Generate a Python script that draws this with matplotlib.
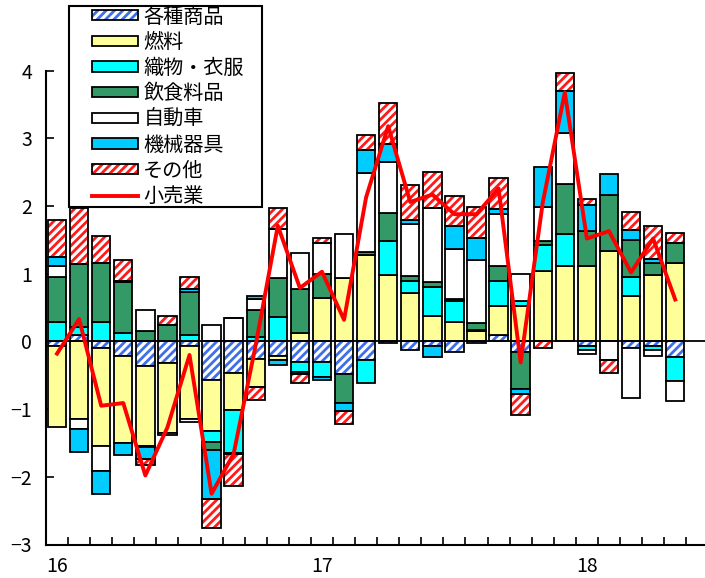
import numpy as np
import matplotlib
matplotlib.use('Agg')
from matplotlib import pyplot as plt
from matplotlib.patches import Patch, Rectangle
from matplotlib.lines import Line2D

plt.rcParams['font.family'] = ['Noto Sans CJK JP', 'DejaVu Sans']
plt.rcParams['hatch.linewidth'] = 2.0

months = ['16', '', '', '', '', '', '', '', '', '', '', '',
          '17', '', '', '', '', '', '', '', '', '', '', '',
          '18', '', '', '', '']

misc = [-0.06, 0.10, -0.10, -0.21, -0.36, -0.32, -0.06, -0.57, -0.47, -0.26,
        -0.22, -0.31, -0.30, -0.48, -0.28, -0.02, -0.12, -0.07, -0.16, -0.02,
        0.10, -0.16, 0.00, 0.00, -0.06, 0.00, -0.10, -0.07, -0.23]
fuel = [-1.21, -1.14, -1.44, -1.29, -1.18, -1.04, -1.08, -0.75, -0.54, -0.41,
        -0.05, 0.12, 0.64, 0.94, 1.27, 0.98, 0.72, 0.38, 0.29, 0.15,
        0.42, 0.52, 1.04, 1.11, 1.11, 1.34, 0.67, 0.98, 1.16]
textile = [0.28, 0.12, 0.29, 0.12, -0.02, 0.00, 0.10, -0.16, -0.64, 0.07,
           0.36, -0.14, -0.22, 0.00, -0.34, 0.50, 0.18, 0.42, 0.31, 0.02,
           0.38, 0.08, 0.38, 0.47, -0.06, 0.00, 0.28, -0.06, -0.35]
food = [0.67, 0.93, 0.87, 0.76, 0.15, 0.24, 0.63, -0.13, -0.02, 0.40,
        0.57, 0.66, 0.35, -0.43, 0.05, 0.42, 0.06, 0.08, 0.02, 0.10,
        0.21, -0.54, 0.06, 0.75, 0.52, 0.83, 0.55, 0.18, 0.29]
auto = [0.17, -0.15, -0.38, 0.02, 0.32, -0.02, -0.05, 0.24, 0.34, 0.16,
        0.73, 0.53, 0.46, 0.64, 1.17, 0.75, 0.78, 1.09, 0.75, 0.94,
        0.78, 0.39, 0.51, 0.75, -0.06, -0.28, -0.73, -0.08, -0.30]
machine = [0.13, -0.35, -0.33, -0.18, -0.17, 0.00, 0.05, -0.72, 0.00, 0.04,
           -0.08, -0.03, -0.05, -0.12, 0.34, 0.27, 0.05, -0.16, 0.33, 0.32,
           0.06, -0.07, 0.58, 0.62, 0.39, 0.30, 0.15, 0.06, 0.00]
other = [0.54, 0.82, 0.40, 0.31, -0.10, 0.14, 0.17, -0.42, -0.46, -0.20,
         0.31, -0.14, 0.08, -0.19, 0.22, 0.61, 0.52, 0.54, 0.45, 0.46,
         0.46, -0.31, -0.10, 0.27, 0.08, -0.19, 0.26, 0.49, 0.15]
retail = [-0.18, 0.33, -0.95, -0.91, -1.98, -1.27, -0.20, -2.25, -1.66, -0.05,
          1.71, 0.79, 1.03, 0.32, 2.13, 3.18, 2.06, 2.17, 1.88, 1.88,
          2.26, -0.31, 2.05, 3.68, 1.52, 1.63, 1.02, 1.52, 0.62]

series = [
    ('各種商品', misc, 'white', '#3F6FE8', '////'),
    ('燃料', fuel, '#FFFF99', None, None),
    ('織物・衣服', textile, '#00FFFF', None, None),
    ('飲食料品', food, '#339966', None, None),
    ('自動車', auto, 'white', None, None),
    ('機械器具', machine, '#00CCFF', None, None),
    ('その他', other, 'white', '#FF1A1A', '////'),
]

fig = plt.figure(figsize=(7.05, 5.78), dpi=100)
ax = fig.add_axes([46 / 705, 1 - 544.5 / 578, 1 - 46 / 705, (544.5 - 70.7) / 578])

x = np.arange(len(months))
w = 0.83
edge_lw = 1.3
pos_bottom = np.zeros(len(x))
neg_bottom = np.zeros(len(x))
handles = []
labels = []
for name, vals, fc, hc, hatch in series:
    v = np.array(vals)
    bottom = np.where(v >= 0, pos_bottom, neg_bottom)
    if hatch:
        ax.bar(x, v, w, bottom=bottom, facecolor=fc, edgecolor=hc, hatch=hatch, linewidth=0, zorder=2)
        ax.bar(x, v, w, bottom=bottom, fill=False, edgecolor='black', linewidth=edge_lw, zorder=3)
        h = (Patch(facecolor=fc, edgecolor=hc, hatch=hatch, linewidth=0),
             Patch(fill=False, edgecolor='black', linewidth=edge_lw))
    else:
        ax.bar(x, v, w, bottom=bottom, color=fc, edgecolor='black', linewidth=edge_lw, zorder=3)
        h = Patch(facecolor=fc, edgecolor='black', linewidth=edge_lw)
    pos_bottom = pos_bottom + np.where(v > 0, v, 0)
    neg_bottom = neg_bottom + np.where(v < 0, v, 0)
    handles.append(h)
    labels.append(name)

ax.plot(x, retail, color='#FF0000', linewidth=2.8, zorder=5)
handles.append(Line2D([0], [0], color='#FF0000', linewidth=2.8))
labels.append('小売業')

ax.axhline(0, color='black', linewidth=1.3, zorder=4)

ax.set_xlim(-0.5, 29.35)
ax.set_ylim(-3, 4)
ax.set_yticks(range(-3, 5))
ax.set_yticklabels(['−3', '−2', '−1', '0', '1', '2', '3', '4'])
ax.set_xticks(x)
ax.set_xticklabels(months)
ax.set_xticks(np.arange(0.5, 29, 1), minor=True)
ax.tick_params(axis='x', which='major', length=0, labelsize=14, pad=8)
ax.tick_params(axis='x', which='minor', direction='in', length=6, width=1.2)
ax.tick_params(axis='y', direction='in', length=6, width=1.2, labelsize=14, pad=10)

for s in ['top', 'right']:
    ax.spines[s].set_visible(False)
for s in ['left', 'bottom']:
    ax.spines[s].set_linewidth(1.5)

# legend box drawn by hand so the left padding can be wider than the top
box = Rectangle((68.7 / 705, 1 - 207 / 578), (261.7 - 68.7) / 705, (207 - 5.7) / 578,
                transform=fig.transFigure, facecolor='white', edgecolor='black',
                linewidth=1.5, zorder=9)
fig.patches.append(box)
leg = fig.legend(handles, labels, loc='upper left', bbox_to_anchor=(92 / 705, 1 - 6.5 / 578),
                 fontsize=14.5, frameon=False, handlelength=2.3, handleheight=0.4,
                 labelspacing=0.23, borderpad=0, handletextpad=0.25, borderaxespad=0)
leg.set_zorder(10)

fig.savefig('out.png', dpi=100)
